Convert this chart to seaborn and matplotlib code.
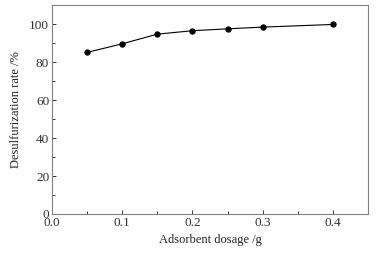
import numpy as np
import pandas as pd
import matplotlib
matplotlib.use("Agg")
import matplotlib.pyplot as plt
import seaborn as sns
from matplotlib.ticker import MultipleLocator

# --- Dados ---
dosagem = [0.05, 0.10, 0.15, 0.20, 0.25, 0.30, 0.40]
taxa = [85.1, 89.6, 94.7, 96.5, 97.5, 98.4, 99.8]

df = pd.DataFrame({"dosagem": dosagem, "taxa": taxa})

sns.set_theme(style="ticks")
plt.rcParams['font.family'] = ['Liberation Serif', 'DejaVu Serif']

fig = plt.figure(figsize=(3.78, 2.54), dpi=100)
ax = fig.add_axes([0.1376, 0.1575, 0.8359, 0.8225])

sns.lineplot(data=df, x="dosagem", y="taxa", ax=ax, color="black", lw=0.8,
             marker="o", markersize=3.8, markeredgecolor="black")

ax.set_xlim(0, 0.45)
ax.set_ylim(0, 110)
ax.xaxis.set_minor_locator(MultipleLocator(0.05))
ax.yaxis.set_minor_locator(MultipleLocator(10))
ax.set_xticks([0, 0.1, 0.2, 0.3, 0.4])
ax.set_xticklabels(["0.0", "0.1", "0.2", "0.3", "0.4"])
ax.set_yticks([0, 20, 40, 60, 80, 100])

grey = "#808080"
for s in ax.spines.values():
    s.set_color(grey)
    s.set_linewidth(0.8)
ax.tick_params(which="both", direction="in", color="#303030", width=0.7,
               labelsize=9.5, labelcolor="#333333", pad=2)
ax.tick_params(which="major", length=3)
ax.tick_params(which="minor", length=2)

ax.set_xlabel("Adsorbent dosage /g", fontsize=9, color="#222222", labelpad=4)
ax.set_ylabel("Desulfurization rate /%", fontsize=9, color="#222222", labelpad=5)

fig.savefig("out.png", dpi=100)
